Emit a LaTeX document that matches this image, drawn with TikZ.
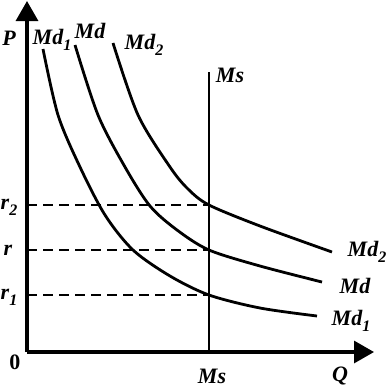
\documentclass[tikz,border=0pt]{standalone}
\usepackage{fontspec}
\setmainfont{Liberation Serif}
\usetikzlibrary{arrows.meta}
\newcommand{\sub}[1]{\raisebox{-0.6ex}{\footnotesize #1}}

\begin{document}
\begin{tikzpicture}[x=0.5pt, y=-0.5pt,
	axis/.style={line width=1.6pt, -{Triangle[length=10pt,width=11pt]}},
	curve/.style={line width=1.4pt, smooth},
	level/.style={line width=1pt, dash pattern=on 5pt off 3pt},
	lbl/.style={font=\fontsize{11}{12}\selectfont\bfseries\itshape, inner sep=0pt}]
\useasboundingbox (0,0) rectangle (389,387);

% AXES
\coordinate (O) at (27,352);
\coordinate (yTop) at (27,1);
\coordinate (xEnd) at (374,352);
\draw[axis] (O) -- (yTop);
\draw[axis] (O) -- (xEnd);

% MONEY SUPPLY
\coordinate (msTop) at (209,72);
\coordinate (msBot) at (209,352);
\draw[line width=0.6pt] (msTop) -- (msBot);

% RATES
\coordinate (r2L) at (27,205);  \coordinate (r2R) at (209,205);
\coordinate (rL)  at (27,250);  \coordinate (rR)  at (209,250);
\coordinate (r1L) at (27,295);  \coordinate (r1R) at (209,295);
\draw[level] (r2L) -- (r2R);
\draw[level] (rL) -- (rR);
\draw[level] (r1L) -- (r1R);

% DEMAND CURVES
\draw[curve] plot coordinates {(43,49) (58,115) (80,167) (105,215) (133,250) (170,276) (209,295) (260,308) (317,316)};
\draw[curve] plot coordinates {(75,45) (98,115) (125,167) (150,206) (177,230) (209,250) (260,266) (322,282)};
\draw[curve] plot coordinates {(113,43) (138,115) (170,167) (188,189) (209,205) (260,226) (332,252)};

% LABELS
\node[lbl] (p)    at (9,38)    {P};
\node[lbl] (md1t) at (52,40)   {Md\sub{1}};
\node[lbl] (mdt)  at (90,31)   {Md};
\node[lbl] (md2t) at (144,45)  {Md\sub{2}};
\node[lbl] (mst)  at (230,75)  {Ms};
\node[lbl] (r2)   at (9,207)   {r\sub{2}};
\node[lbl] (r)    at (8,250)   {r};
\node[lbl] (r1)   at (9,297)   {r\sub{1}};
\node[lbl] (md2r) at (367,252) {Md\sub{2}};
\node[lbl] (mdr)  at (355,286) {Md};
\node[lbl] (md1r) at (351,321) {Md\sub{1}};
\node[lbl, font=\fontsize{11}{12}\selectfont\bfseries] (zero) at (15,362) {0};
\node[lbl] (msb)  at (212,376) {Ms};
\node[lbl] (q)    at (340,376) {Q};
\end{tikzpicture}
\end{document}
